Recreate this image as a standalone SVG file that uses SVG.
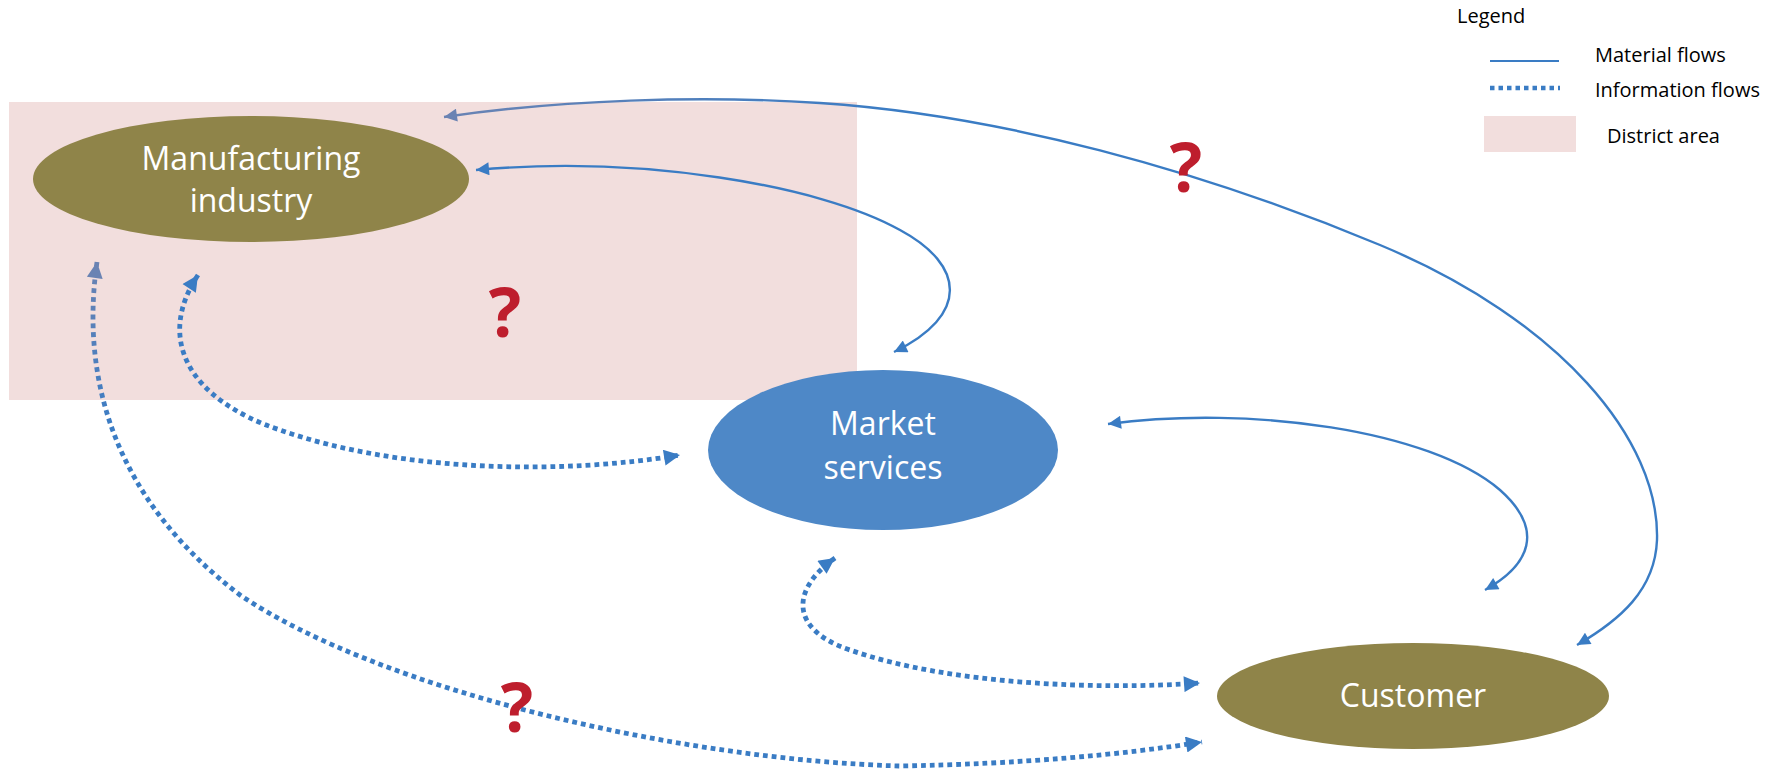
<svg xmlns="http://www.w3.org/2000/svg" width="1785" height="772" viewBox="0 0 1785 772">
<style>
.lbl{font-family:"Open Sans","Noto Sans",sans-serif;font-size:32px;fill:#ffffff;text-anchor:middle}
.leg{font-family:"Open Sans","Noto Sans",sans-serif;font-size:20px;fill:#000000}
.q{font-family:"Open Sans","Noto Sans",sans-serif;font-size:68px;font-weight:bold;fill:#BE1E2D;text-anchor:middle}
.mat{fill:none;stroke:#3A7CC4;stroke-width:2.4}
.info{fill:none;stroke:#3A7CC4;stroke-width:4.8;stroke-dasharray:4.8 4}
</style>
<defs>
<marker id="aS" viewBox="0 0 10 10" refX="10" refY="5" markerWidth="16" markerHeight="13" markerUnits="userSpaceOnUse" orient="auto-start-reverse"><path d="M0,0 L10,5 L0,10 z" fill="#3A7CC4"/></marker>
<marker id="aSg" viewBox="0 0 10 10" refX="10" refY="5" markerWidth="16" markerHeight="13" markerUnits="userSpaceOnUse" orient="auto-start-reverse"><path d="M0,0 L10,5 L0,10 z" fill="#6A83B3"/></marker>
<marker id="aD" viewBox="0 0 10 10" refX="10" refY="5" markerWidth="18" markerHeight="16" markerUnits="userSpaceOnUse" orient="auto-start-reverse"><path d="M0,0 L10,5 L0,10 z" fill="#3A7CC4"/></marker>
<marker id="aDg" viewBox="0 0 10 10" refX="10" refY="5" markerWidth="18" markerHeight="16" markerUnits="userSpaceOnUse" orient="auto-start-reverse"><path d="M0,0 L10,5 L0,10 z" fill="#6A83B3"/></marker>
<linearGradient id="g1" gradientUnits="userSpaceOnUse" x1="444" y1="0" x2="900" y2="0"><stop offset="0" stop-color="#6A83B3"/><stop offset="1" stop-color="#3A7CC4"/></linearGradient>
<linearGradient id="g5" gradientUnits="userSpaceOnUse" x1="0" y1="262" x2="0" y2="430"><stop offset="0" stop-color="#6A83B3"/><stop offset="1" stop-color="#3A7CC4"/></linearGradient>
</defs>

<rect id="district" x="9" y="102" width="848" height="298" fill="#F2DEDD"/>

<g id="legend">
<text class="leg" x="1457" y="23">Legend</text>
<line x1="1490" y1="61" x2="1559" y2="61" stroke="#3A7CC4" stroke-width="2"/>
<text class="leg" x="1595" y="62">Material flows</text>
<line x1="1490" y1="88" x2="1560" y2="88" stroke="#3A7CC4" stroke-width="4.5" stroke-dasharray="4.5 4"/>
<text class="leg" x="1595" y="97">Information flows</text>
<rect x="1484" y="116" width="92" height="36" fill="#F2DEDD"/>
<text class="leg" x="1607" y="143">District area</text>
</g>

<g id="node-manufacturing">
<ellipse cx="251" cy="179" rx="218" ry="63" fill="#8F8449"/>
<text class="lbl" x="251" y="170">Manufacturing</text>
<text class="lbl" x="251" y="212">industry</text>
</g>
<g id="node-market">
<ellipse cx="883" cy="450" rx="175" ry="80" fill="#4E88C7"/>
<text class="lbl" x="883" y="435">Market</text>
<text class="lbl" x="883" y="479">services</text>
</g>
<g id="node-customer">
<ellipse cx="1413" cy="696" rx="196" ry="53" fill="#8F8449"/>
<text class="lbl" x="1413" y="707">Customer</text>
</g>

<g id="connectors">
<path class="mat" style="stroke:url(#g1)" d="M444,117 C560,100 700,95 820,103 C1000,115 1200,170 1380,245 C1560,320 1660,440 1657,540 C1655,590 1620,620 1577,645" marker-start="url(#aSg)" marker-end="url(#aS)"/>
<path class="mat" d="M476,170 C640,155 820,185 900,230 C965,265 970,315 894,352" marker-start="url(#aS)" marker-end="url(#aS)"/>
<path class="mat" d="M1108,424 C1250,405 1430,430 1500,490 C1545,530 1530,565 1485,590" marker-start="url(#aS)" marker-end="url(#aS)"/>
<path class="info" d="M198,275 C155,340 190,400 280,430 C400,472 560,475 680,455" marker-start="url(#aD)" marker-end="url(#aD)"/>
<path class="info" style="stroke:url(#g5)" d="M97,262 C80,380 115,500 240,595 C380,690 680,760 900,766 C1020,764 1120,755 1202,742" marker-start="url(#aDg)" marker-end="url(#aD)"/>
<path class="info" d="M835,558 C790,590 790,630 850,650 C950,685 1100,690 1200,683" marker-start="url(#aD)" marker-end="url(#aD)"/>
</g>

<g id="marks">
<text class="q" x="1186" y="192">?</text>
<text class="q" x="505" y="337">?</text>
<text class="q" x="517" y="732">?</text>
</g>
</svg>
